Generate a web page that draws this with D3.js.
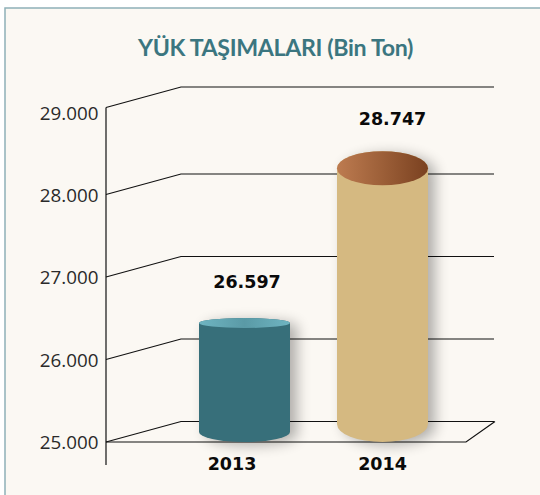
<!DOCTYPE html>
<html><head><meta charset="utf-8">
<script src="https://cdn.jsdelivr.net/npm/d3@7/dist/d3.min.js"></script>
<style>html,body{margin:0;padding:0;background:#fff}svg{display:block}</style>
</head><body><svg id="c" width="540" height="495"></svg>
<script>
const years = ["2013","2014"];
const values = [26597,28747];
const valueLabels = ["26.597","28.747"];
const ticks = [25000,26000,27000,28000,29000];
const titleText = "YÜK TAŞIMALARI (Bin Ton)";

const svg = d3.select("#c");
const defs = svg.append("defs");
const fmt = d3.formatLocale({decimal:",",thousands:".",grouping:[3],currency:["",""]}).format(",d");

// frame
svg.append("rect").attr("x",5).attr("y",8).attr("width",540).attr("height",500)
  .attr("fill","#fbf8f3").attr("stroke","#8eb0b8").attr("stroke-width",1.5);

// title
svg.append("text").attr("x",275.5).attr("y",55.5).attr("text-anchor","middle")
  .attr("font-family","Lato").attr("font-weight",700).attr("font-size",23.2)
  .attr("letter-spacing",-0.35)
  .attr("fill","#3b7680").text(titleText);

// scales
const yFront = d3.scaleLinear().domain([25000,28000,29000]).range([442,194.5,107.5]);
const depthX = 75, depthY = -20.5;
const xAxis0 = 106, xRight = 494;
const yLabel = d3.scaleLinear().domain([25000,29000]).range([442,113]);
const barH = d3.scaleLinear().domain([25000,29000]).range([0,273]);
const xBar = d3.scalePoint().domain(years).range([244.5,382.5]);

// gridlines
const line = d3.line();
const grid = svg.append("g").attr("fill","none").attr("stroke","#111").attr("stroke-width",1.2);
grid.selectAll("path").data(ticks).join("path")
  .attr("d",t=>line([[xAxis0,yFront(t)],[xAxis0+depthX,yFront(t)+depthY],[xRight,yFront(t)+depthY]]));
// floor
grid.append("path").attr("d",line([[xAxis0,yFront(25000)],[466,yFront(25000)],[xRight+1,yFront(25000)+depthY]]));
// axis line
grid.append("path").attr("d",line([[xAxis0,yFront(29000)],[xAxis0,465]]));

// tick labels
const axis = d3.axisLeft(yLabel).tickValues(ticks).tickFormat(fmt).tickSize(0).tickPadding(0);
const ag = svg.append("g").attr("transform","translate(98.5,0)").call(axis);
ag.select(".domain").remove();
ag.selectAll("text").attr("font-family","Open Sans").attr("font-weight",400).attr("font-size",18.8).attr("fill","#2a2a2a").attr("dy","0.34em");

// cylinders
const bottomRy = {"2013":10,"2014":18}, topRy = {"2013":5,"2014":17};
const bases = {"2013":432,"2014":424};
const rx = 45.5;
const bodyCol = {"2013":"#376f7a","2014":"#d5b981"};
const topStops = {"2013":["#6fb5c2","#5a9aa6","#6fb5c2"],"2014":["#bd7b50","#9c5f38","#7a4120"]};

defs.append("filter").attr("id","sh").attr("x","-30%").attr("y","-30%").attr("width","160%").attr("height","160%")
  .append("feGaussianBlur").attr("stdDeviation",7);
years.forEach((y,i)=>{
  const g = defs.append("linearGradient").attr("id","top"+y);
  topStops[y].forEach((c,j)=>g.append("stop").attr("offset",j/2).attr("stop-color",c));
});
let topRyCur = 0;
const cyl = (cx,top,base,r,ry)=>`M${cx-r},${top}L${cx-r},${base}A${r},${ry} 0 0 0 ${cx+r},${base}L${cx+r},${top}A${r},${topRyCur} 0 0 0 ${cx-r},${top}Z`;
years.forEach((y,i)=>{
  const cx = xBar(y), base = bases[y], top = base-barH(values[i]);
  topRyCur = topRy[y];
  const d = cyl(cx,top,base,rx,bottomRy[y]);
  svg.append("path").attr("d",d).attr("transform","translate(7,3)").attr("fill","#000").attr("opacity",0.3).attr("filter","url(#sh)");
  svg.append("path").attr("d",d).attr("fill",bodyCol[y]);
  svg.append("ellipse").attr("cx",cx).attr("cy",top).attr("rx",rx).attr("ry",topRy[y]).attr("fill",`url(#top${y})`);
});

// value labels
const bold = {"font-family":"DejaVu Sans","font-weight":700,"font-size":17.5,"fill":"#0a0a0a"};
const applyBold = s=>{for(const k in bold) s.attr(k,bold[k]);return s;};
const valX = [247,392.5], valY = [288,125];
applyBold(svg.append("g").selectAll("text").data(valueLabels).join("text")
  .attr("x",(d,i)=>valX[i]).attr("y",(d,i)=>valY[i]).attr("text-anchor","middle").text(d=>d));
const yrX = [232,382.5];
applyBold(svg.append("g").selectAll("text").data(years).join("text")
  .attr("x",(d,i)=>yrX[i]).attr("y",470).attr("text-anchor","middle").text(d=>d));
</script></body></html>
